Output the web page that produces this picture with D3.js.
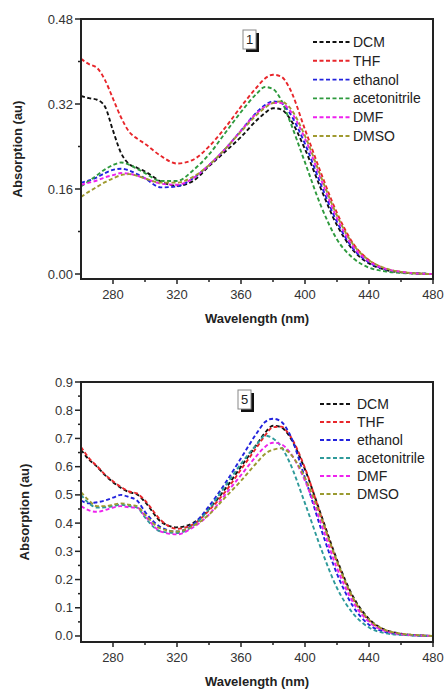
<!DOCTYPE html>
<html>
<head>
<meta charset="utf-8">
<script src="https://cdn.jsdelivr.net/npm/d3@7"></script>
<style>
  body { margin: 0; background: #fff; }
  svg { font-family: "Liberation Sans", Arial, sans-serif; }
</style>
</head>
<body>
<svg id="chart" width="447" height="689"></svg>
<script>
// wavelengths shared by every series (nm)
const wavelengths = [260,265,270,275,280,285,290,295,300,310,320,330,340,350,360,370,375,380,385,390,400,410,420,430,440,450,460,470,480];
const solvents = ["DCM", "THF", "ethanol", "acetonitrile", "DMF", "DMSO"];

// compound 1
const dcm1  = [0.335,0.331,0.328,0.315,0.270,0.228,0.207,0.200,0.193,0.174,0.166,0.175,0.203,0.230,0.258,0.290,0.303,0.312,0.310,0.295,0.235,0.160,0.092,0.045,0.020,0.008,0.003,0.001,0.000];
const thf1  = [0.405,0.395,0.388,0.365,0.330,0.295,0.268,0.255,0.245,0.222,0.208,0.215,0.240,0.275,0.315,0.352,0.368,0.375,0.372,0.352,0.272,0.190,0.115,0.058,0.026,0.010,0.004,0.001,0.000];
const eth1  = [0.172,0.176,0.182,0.190,0.196,0.198,0.195,0.188,0.180,0.163,0.165,0.180,0.205,0.235,0.270,0.305,0.318,0.325,0.322,0.305,0.245,0.168,0.098,0.048,0.022,0.009,0.003,0.001,0.000];
const acn1  = [0.165,0.175,0.186,0.197,0.205,0.210,0.206,0.198,0.190,0.175,0.175,0.195,0.225,0.265,0.305,0.340,0.352,0.348,0.328,0.292,0.210,0.128,0.065,0.030,0.012,0.005,0.002,0.001,0.000];
const dmf1  = [0.168,0.172,0.176,0.182,0.186,0.190,0.189,0.185,0.180,0.170,0.168,0.180,0.205,0.235,0.270,0.303,0.315,0.322,0.322,0.310,0.255,0.178,0.105,0.052,0.024,0.010,0.004,0.001,0.000];
const dmso1 = [0.145,0.155,0.164,0.173,0.180,0.186,0.188,0.185,0.180,0.172,0.172,0.183,0.205,0.235,0.268,0.300,0.313,0.322,0.325,0.315,0.260,0.183,0.110,0.056,0.026,0.011,0.004,0.001,0.000];

// compound 5
const dcm5  = [0.660,0.625,0.600,0.570,0.545,0.525,0.510,0.502,0.475,0.405,0.385,0.400,0.450,0.520,0.600,0.680,0.720,0.745,0.740,0.710,0.590,0.430,0.270,0.140,0.060,0.022,0.008,0.003,0.000];
const thf5  = [0.670,0.630,0.602,0.572,0.548,0.528,0.512,0.505,0.480,0.410,0.380,0.395,0.445,0.510,0.590,0.670,0.710,0.740,0.742,0.715,0.595,0.425,0.262,0.132,0.055,0.020,0.007,0.002,0.000];
const eth5  = [0.480,0.470,0.474,0.480,0.490,0.500,0.492,0.480,0.440,0.385,0.370,0.395,0.460,0.540,0.630,0.720,0.758,0.770,0.760,0.720,0.560,0.380,0.220,0.105,0.040,0.014,0.005,0.002,0.000];
const acn5  = [0.500,0.470,0.455,0.456,0.460,0.465,0.460,0.455,0.420,0.370,0.365,0.390,0.450,0.530,0.610,0.680,0.710,0.700,0.672,0.620,0.470,0.310,0.170,0.080,0.030,0.010,0.004,0.001,0.000];
const dmf5  = [0.460,0.445,0.440,0.446,0.455,0.460,0.456,0.455,0.425,0.370,0.360,0.385,0.430,0.500,0.570,0.640,0.670,0.685,0.680,0.655,0.550,0.400,0.240,0.120,0.050,0.018,0.006,0.002,0.000];
const dmso5 = [0.510,0.480,0.460,0.460,0.465,0.470,0.465,0.460,0.430,0.380,0.370,0.390,0.430,0.490,0.550,0.615,0.645,0.660,0.665,0.650,0.560,0.420,0.265,0.135,0.058,0.022,0.008,0.003,0.000];

const colors1 = ["#111111", "#e8262b", "#2222dd", "#2e9a3e", "#ee22ee", "#a09a30"];
const colors5 = ["#111111", "#e8262b", "#2222dd", "#2e9a9a", "#ee22ee", "#9a9a30"];

const yTicks1 = [0, 0.16, 0.32, 0.48];
const yTicks5 = [0, 0.1, 0.2, 0.3, 0.4, 0.5, 0.6, 0.7, 0.8, 0.9];
const xTicks = [280, 320, 360, 400, 440, 480];

const svg = d3.select("#chart");

function drawPanel(p) {
  const g = svg.append("g");
  const x = d3.scaleLinear().domain([260, 480]).range([p.left, p.right]);
  const y = d3.scaleLinear().domain(p.yDomain).range([p.bottom, p.top]);

  // minor ticks
  const xMinor = d3.range(300, 480, 40);
  g.selectAll(".xminor").data(xMinor).enter().append("line")
    .attr("x1", d => x(d)).attr("x2", d => x(d))
    .attr("y1", p.bottom).attr("y2", p.bottom + 3)
    .attr("stroke", "#222").attr("stroke-width", 1.5);
  g.selectAll(".yminor").data(p.yMinor).enter().append("line")
    .attr("x1", p.left - 3).attr("x2", p.left)
    .attr("y1", d => y(d)).attr("y2", d => y(d))
    .attr("stroke", "#222").attr("stroke-width", 1.5);

  // major ticks + labels
  g.selectAll(".xmajor").data(xTicks).enter().append("line")
    .attr("x1", d => x(d)).attr("x2", d => x(d))
    .attr("y1", p.bottom).attr("y2", p.bottom + 5)
    .attr("stroke", "#222").attr("stroke-width", 1.5);
  g.selectAll(".xlab").data(xTicks).enter().append("text")
    .attr("x", d => x(d)).attr("y", p.bottom + 20)
    .attr("text-anchor", "middle").attr("font-size", 13).attr("fill", "#333")
    .text(d => d);
  g.selectAll(".ymajor").data(p.yTicks).enter().append("line")
    .attr("x1", p.left - 6).attr("x2", p.left)
    .attr("y1", d => y(d)).attr("y2", d => y(d))
    .attr("stroke", "#222").attr("stroke-width", 1.5);
  g.selectAll(".ylab").data(p.yTicks).enter().append("text")
    .attr("x", p.left - 8).attr("y", d => y(d) + 4.5)
    .attr("text-anchor", "end").attr("font-size", 13).attr("fill", "#333")
    .text(d => d3.format(p.fmt)(d));

  // series
  const clipId = "clip" + p.id;
  g.append("clipPath").attr("id", clipId).append("rect")
    .attr("x", p.left).attr("y", p.top)
    .attr("width", p.right - p.left).attr("height", p.bottom - p.top);
  const line = d3.line()
    .x((d, i) => x(wavelengths[i]))
    .y(d => y(d))
    .curve(d3.curveMonotoneX);
  g.append("g").attr("clip-path", `url(#${clipId})`)
    .selectAll("path").data(p.series).enter().append("path")
    .attr("d", d => line(d))
    .attr("fill", "none")
    .attr("stroke", (d, i) => p.colors[i])
    .attr("stroke-width", 1.9)
    .attr("stroke-dasharray", "4,2.5");

  // frame
  g.append("rect")
    .attr("x", p.left).attr("y", p.top)
    .attr("width", p.right - p.left).attr("height", p.bottom - p.top)
    .attr("fill", "none").attr("stroke", "#222").attr("stroke-width", 2);

  // titles
  g.append("text")
    .attr("x", (p.left + p.right) / 2).attr("y", p.bottom + 44)
    .attr("text-anchor", "middle").attr("font-size", 13).attr("font-weight", "bold").attr("fill", "#222")
    .text("Wavelength (nm)");
  g.append("text")
    .attr("transform", `translate(${p.yTitleX},${(p.top + p.bottom) / 2}) rotate(-90)`)
    .attr("text-anchor", "middle").attr("font-size", 13).attr("font-weight", "bold").attr("fill", "#222")
    .text("Absorption (au)");

  // compound label box with shadow
  g.append("rect").attr("x", p.boxX + 3).attr("y", p.boxY + 3)
    .attr("width", 13).attr("height", 19).attr("fill", "#111");
  g.append("rect").attr("x", p.boxX).attr("y", p.boxY)
    .attr("width", 13).attr("height", 19).attr("fill", "#fff")
    .attr("stroke", "#888").attr("stroke-width", 1);
  g.append("text").attr("x", p.boxX + 6.5).attr("y", p.boxY + 14)
    .attr("text-anchor", "middle").attr("font-size", 13).attr("fill", "#222")
    .text(p.label);

  // legend
  const leg = g.selectAll(".leg").data(solvents).enter().append("g")
    .attr("transform", (d, i) => `translate(0,${p.legY + i * p.legStep})`);
  leg.append("line")
    .attr("x1", p.legX).attr("x2", p.legX + p.legLen)
    .attr("stroke", (d, i) => p.colors[i])
    .attr("stroke-width", 1.9).attr("stroke-dasharray", "4,2.5");
  leg.append("text")
    .attr("x", p.legX + p.legLen + p.legGap).attr("y", 5)
    .attr("font-size", 14).attr("fill", "#222")
    .text(d => d);
}

drawPanel({
  id: 1, label: "1",
  left: 81, right: 433, top: 19, bottom: 279,
  yDomain: [-0.0094, 0.48], yTicks: yTicks1, yMinor: [0.08, 0.24, 0.40], fmt: ".2f",
  yTitleX: 22,
  series: [dcm1, thf1, eth1, acn1, dmf1, dmso1], colors: colors1,
  boxX: 243, boxY: 30,
  legX: 313, legLen: 37, legGap: 3, legY: 42, legStep: 18.8
});

drawPanel({
  id: 5, label: "5",
  left: 81, right: 433, top: 382, bottom: 642,
  yDomain: [-0.0213, 0.9], yTicks: yTicks5, yMinor: d3.range(0.05, 0.9, 0.1), fmt: ".1f",
  yTitleX: 29,
  series: [dcm5, thf5, eth5, acn5, dmf5, dmso5], colors: colors5,
  boxX: 238, boxY: 390,
  legX: 320, legLen: 32, legGap: 5, legY: 404, legStep: 18
});
</script>
</body>
</html>
